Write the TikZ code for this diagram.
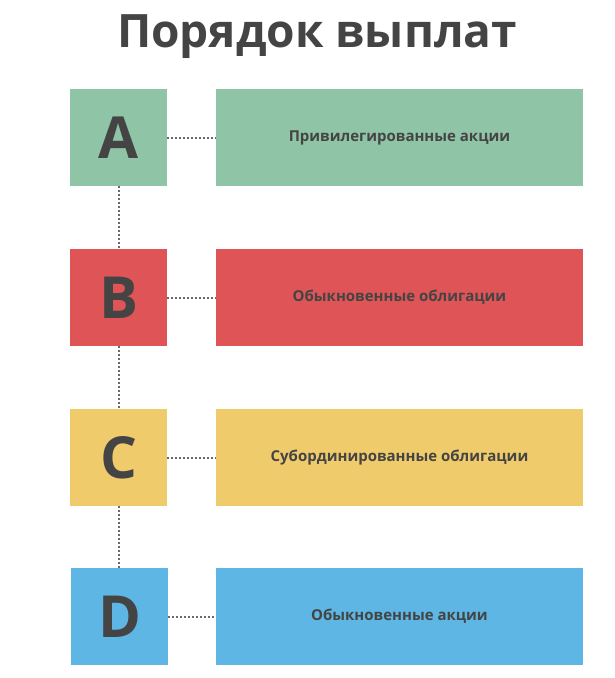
\documentclass[tikz,border=0pt]{standalone}
\usepackage{fontspec}
\setmainfont{Open Sans}
\usetikzlibrary{positioning}
\definecolor{tgreen}{HTML}{8FC4A7}
\definecolor{tred}{HTML}{DF5457}
\definecolor{tyellow}{HTML}{F0CB6B}
\definecolor{tblue}{HTML}{5DB6E4}
\definecolor{tgray}{HTML}{444444}
\tikzset{
  letterbox/.style={minimum width=97pt, minimum height=97pt, inner sep=0pt, text=tgray, font=\fontsize{58}{58}\selectfont\bfseries},
  textbox/.style={minimum width=367pt, minimum height=97pt, inner sep=0pt, text=tgray, font=\fontsize{15}{18}\selectfont\bfseries},
  link/.style={draw=tgray!80, line width=2pt, dash pattern=on 2pt off 2pt}
}
\begin{document}
\begin{tikzpicture}[x=1pt,y=-1pt]
\useasboundingbox (0,0) rectangle (614,678);
\node[text=tgray, font=\fontsize{46}{50}\selectfont\bfseries] (title) at (317,37) {Порядок выплат};
% letters
\node[letterbox, fill=tgreen] (a) at (118.5,137.5) {A};
\node[letterbox, fill=tred] (b) at (118.5,297.5) {B};
\node[letterbox, fill=tyellow] (c) at (118.5,457.5) {C};
\node[letterbox, fill=tblue] (d) at (119.5,616.5) {D};
% descriptions
\node[textbox, fill=tgreen] (ta) at (399.5,137.5) {Привилегированные акции};
\node[textbox, fill=tred] (tb) at (399.5,297.5) {Обыкновенные облигации};
\node[textbox, fill=tyellow] (tc) at (399.5,457.5) {Субординированные облигации};
\node[textbox, fill=tblue] (td) at (399.5,616.5) {Обыкновенные акции};
\foreach \s/\t in {a/ta,b/tb,c/tc,d/td}
  \draw[link] (\s.east) -- (\t.west);
\draw[link] (a.south) -- (b.north);
\draw[link] (b.south) -- (c.north);
\draw[link] (c.south) -- (c.south |- d.north);
\end{tikzpicture}
\end{document}
